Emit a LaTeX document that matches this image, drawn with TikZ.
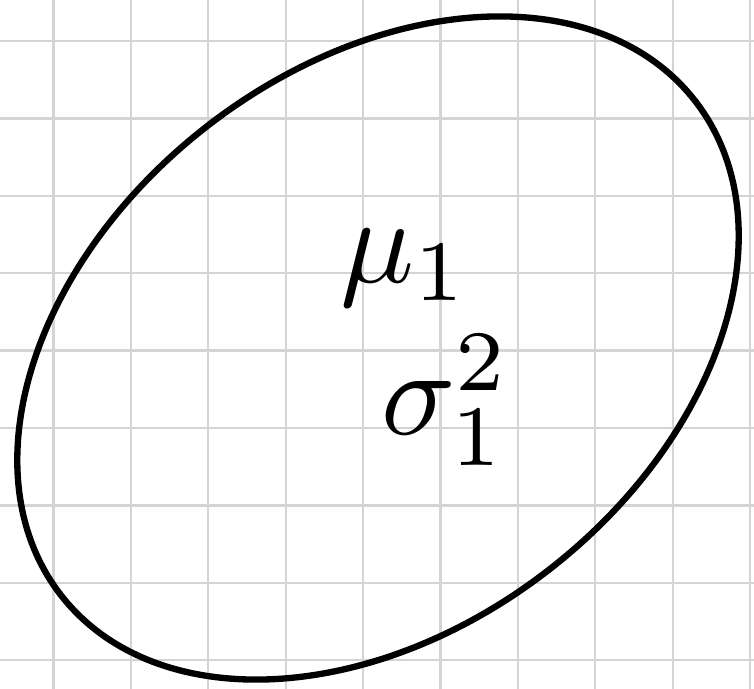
\documentclass[tikz,border=0pt]{standalone}
\usepackage{amsmath,amssymb}
\usepackage{xcolor}
\definecolor{gridgray}{RGB}{212,212,212}
\usepackage{tikz}
\usetikzlibrary{positioning}
\newcommand{\bigsym}[1]{\scalebox{7}{$#1$}}
\tikzset{
  gridline/.style={gridgray,line width=1.3pt},
  blob/.style={black,line width=3.6pt},
  param/.style={inner sep=0pt}
}

\begin{document}
\begin{tikzpicture}[x=0.02cm,y=-0.02cm]
  \useasboundingbox (0,0) rectangle (754,689);
  \foreach \i in {0,...,9} \draw[gridline] ({53.5+77.4*\i},0) -- ({53.5+77.4*\i},689);
  \foreach \j in {0,...,8} \draw[gridline] (0,{41+77.4*\j}) -- (754,{41+77.4*\j});
  \draw[blob,rotate around={38:(378,348)}] (378,348) ellipse (402 and 280);
  \node[param] (mu) at (405,268) {\bigsym{\mu_1}};
  \node[param] (sigma) at (446,400) {\bigsym{\sigma_1^2}};
\end{tikzpicture}
\end{document}
